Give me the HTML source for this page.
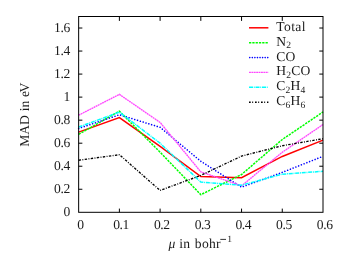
<!DOCTYPE html>
<html><head><meta charset="utf-8"><title>MAD plot</title>
<style>
html,body{margin:0;padding:0;background:#fff;}
body{width:361px;height:254px;overflow:hidden;font-family:"Liberation Serif",serif;}
svg{display:block;will-change:transform;}
text{font-family:"Liberation Serif",serif;font-size:13.6px;fill:#1c1c1c;text-rendering:geometricPrecision;}
.sub{font-size:9.6px;}
.tk{letter-spacing:-0.4px;}
.lg{letter-spacing:0.2px;}
</style></head><body>
<svg width="361" height="254" viewBox="0 0 361 254">
<rect width="361" height="254" fill="#fff"/>
<polyline points="78.65,132.14 119.38,117.62 160.10,146.30 200.82,176.48 241.55,177.75 282.27,156.44 323.00,140.08" fill="none" stroke="#ff0000" stroke-width="1.5" stroke-linejoin="miter"/>
<polyline points="78.65,134.33 119.38,111.18 160.10,152.18 200.82,194.68 241.55,174.52 282.27,139.51 323.00,111.98" fill="none" stroke="#00ff00" stroke-width="1.5" stroke-dasharray="2.3,1" stroke-linejoin="miter"/>
<polyline points="78.65,128.45 119.38,114.75 160.10,127.30 200.82,161.28 241.55,187.19 282.27,172.33 323.00,156.32" fill="none" stroke="#0000ff" stroke-width="1.6" stroke-dasharray="0.01,2.94" stroke-linecap="round" stroke-linejoin="miter"/>
<polyline points="78.65,115.21 119.38,94.36 160.10,122.46 200.82,171.87 241.55,185.81 282.27,152.29 323.00,124.54" fill="none" stroke="#ff48ff" stroke-width="1.35" stroke-dasharray="1.9,0.5" stroke-linejoin="miter"/>
<polyline points="78.65,127.07 119.38,112.10 160.10,143.19 200.82,182.12 241.55,185.23 282.27,174.18 323.00,171.30" fill="none" stroke="#00ffff" stroke-width="1.5" stroke-dasharray="4,0.8,0.9,0.8" stroke-linejoin="miter"/>
<polyline points="78.65,160.24 119.38,154.71 160.10,190.42 200.82,175.44 241.55,156.09 282.27,145.73 323.00,138.70" fill="none" stroke="#000000" stroke-width="1.35" stroke-dasharray="2.4,1.4,0.9,1.4" stroke-linejoin="miter"/>
<line x1="249.00" y1="27.8" x2="268.40" y2="27.8" stroke="#ff0000" stroke-width="1.5"/>
<text class="lg" x="276.3" y="30.8"><tspan letter-spacing="0.35">Total</tspan></text>
<line x1="249.00" y1="42.8" x2="268.40" y2="42.8" stroke="#00ff00" stroke-width="1.5" stroke-dasharray="2.3,1"/>
<text class="lg" x="276.3" y="45.8">N<tspan class="sub" dy="2.4">2</tspan></text>
<line x1="249.75" y1="57.6" x2="268.00" y2="57.6" stroke="#0000ff" stroke-width="1.6" stroke-dasharray="0.01,2.56" stroke-linecap="round"/>
<text class="lg" x="276.3" y="60.6">CO</text>
<line x1="249.00" y1="72.3" x2="268.40" y2="72.3" stroke="#ff48ff" stroke-width="1.35" stroke-dasharray="1.9,0.5"/>
<text class="lg" x="276.3" y="75.3">H<tspan class="sub" dy="2.4">2</tspan><tspan dy="-2.4">CO</tspan></text>
<line x1="249.00" y1="87.2" x2="268.40" y2="87.2" stroke="#00ffff" stroke-width="1.5" stroke-dasharray="4,0.8,0.9,0.8"/>
<text class="lg" x="276.3" y="90.2">C<tspan class="sub" dy="2.4">2</tspan><tspan dy="-2.4">H</tspan><tspan class="sub" dy="2.4">4</tspan></text>
<line x1="249.00" y1="102.2" x2="268.40" y2="102.2" stroke="#000000" stroke-width="1.35" stroke-dasharray="1.7,1.5,0.95,1.85"/>
<text class="lg" x="276.3" y="105.2">C<tspan class="sub" dy="2.4">6</tspan><tspan dy="-2.4">H</tspan><tspan class="sub" dy="2.4">6</tspan></text>
<rect x="78.65" y="16.50" width="244.35" height="195.80" fill="none" stroke="#000" stroke-width="1"/>
<line x1="119.38" y1="212.30" x2="119.38" y2="208.60" stroke="#000" stroke-width="1"/>
<line x1="119.38" y1="16.50" x2="119.38" y2="20.90" stroke="#000" stroke-width="1"/>
<line x1="160.10" y1="212.30" x2="160.10" y2="208.60" stroke="#000" stroke-width="1"/>
<line x1="160.10" y1="16.50" x2="160.10" y2="20.90" stroke="#000" stroke-width="1"/>
<line x1="200.82" y1="212.30" x2="200.82" y2="208.60" stroke="#000" stroke-width="1"/>
<line x1="200.82" y1="16.50" x2="200.82" y2="20.90" stroke="#000" stroke-width="1"/>
<line x1="241.55" y1="212.30" x2="241.55" y2="208.60" stroke="#000" stroke-width="1"/>
<line x1="241.55" y1="16.50" x2="241.55" y2="20.90" stroke="#000" stroke-width="1"/>
<line x1="282.27" y1="212.30" x2="282.27" y2="208.60" stroke="#000" stroke-width="1"/>
<line x1="282.27" y1="16.50" x2="282.27" y2="20.90" stroke="#000" stroke-width="1"/>
<line x1="78.65" y1="189.26" x2="82.35" y2="189.26" stroke="#000" stroke-width="1"/>
<line x1="323.00" y1="189.26" x2="319.30" y2="189.26" stroke="#000" stroke-width="1"/>
<line x1="78.65" y1="166.23" x2="82.35" y2="166.23" stroke="#000" stroke-width="1"/>
<line x1="323.00" y1="166.23" x2="319.30" y2="166.23" stroke="#000" stroke-width="1"/>
<line x1="78.65" y1="143.19" x2="82.35" y2="143.19" stroke="#000" stroke-width="1"/>
<line x1="323.00" y1="143.19" x2="319.30" y2="143.19" stroke="#000" stroke-width="1"/>
<line x1="78.65" y1="120.16" x2="82.35" y2="120.16" stroke="#000" stroke-width="1"/>
<line x1="323.00" y1="120.16" x2="319.30" y2="120.16" stroke="#000" stroke-width="1"/>
<line x1="78.65" y1="97.12" x2="82.35" y2="97.12" stroke="#000" stroke-width="1"/>
<line x1="323.00" y1="97.12" x2="319.30" y2="97.12" stroke="#000" stroke-width="1"/>
<line x1="78.65" y1="74.09" x2="82.35" y2="74.09" stroke="#000" stroke-width="1"/>
<line x1="323.00" y1="74.09" x2="319.30" y2="74.09" stroke="#000" stroke-width="1"/>
<line x1="78.65" y1="51.05" x2="82.35" y2="51.05" stroke="#000" stroke-width="1"/>
<line x1="323.00" y1="51.05" x2="319.30" y2="51.05" stroke="#000" stroke-width="1"/>
<line x1="78.65" y1="28.02" x2="82.35" y2="28.02" stroke="#000" stroke-width="1"/>
<line x1="323.00" y1="28.02" x2="319.30" y2="28.02" stroke="#000" stroke-width="1"/>
<text class="tk" x="80.40" y="229" text-anchor="middle">0</text>
<text class="tk" x="121.13" y="229" text-anchor="middle">0.1</text>
<text class="tk" x="161.85" y="229" text-anchor="middle">0.2</text>
<text class="tk" x="202.57" y="229" text-anchor="middle">0.3</text>
<text class="tk" x="243.30" y="229" text-anchor="middle">0.4</text>
<text class="tk" x="284.02" y="229" text-anchor="middle">0.5</text>
<text class="tk" x="324.75" y="229" text-anchor="middle">0.6</text>
<text class="tk" x="70.00" y="215.80" text-anchor="end">0</text>
<text class="tk" x="69.80" y="192.76" text-anchor="end">0.2</text>
<text class="tk" x="69.80" y="169.73" text-anchor="end">0.4</text>
<text class="tk" x="69.80" y="146.69" text-anchor="end">0.6</text>
<text class="tk" x="69.80" y="123.66" text-anchor="end">0.8</text>
<text class="tk" x="70.00" y="100.62" text-anchor="end">1</text>
<text class="tk" x="69.80" y="77.59" text-anchor="end">1.2</text>
<text class="tk" x="69.80" y="54.55" text-anchor="end">1.4</text>
<text class="tk" x="69.80" y="31.52" text-anchor="end">1.6</text>
<text x="168.5" y="248" font-style="italic">μ</text>
<text x="179.3" y="248" letter-spacing="0.2">in</text>
<text x="194.8" y="248" letter-spacing="0.3">bohr</text>
<line x1="220.3" y1="239.4" x2="226.0" y2="239.4" stroke="#000" stroke-width="0.8"/>
<text x="227.3" y="242" class="sub">1</text>
<text transform="translate(28.8,115.5) rotate(-90)" text-anchor="middle"><tspan dx="0.8">MAD</tspan><tspan dx="0.5"> in</tspan><tspan dx="0.2"> e</tspan><tspan dx="-1.5">V</tspan></text>
</svg></body></html>
